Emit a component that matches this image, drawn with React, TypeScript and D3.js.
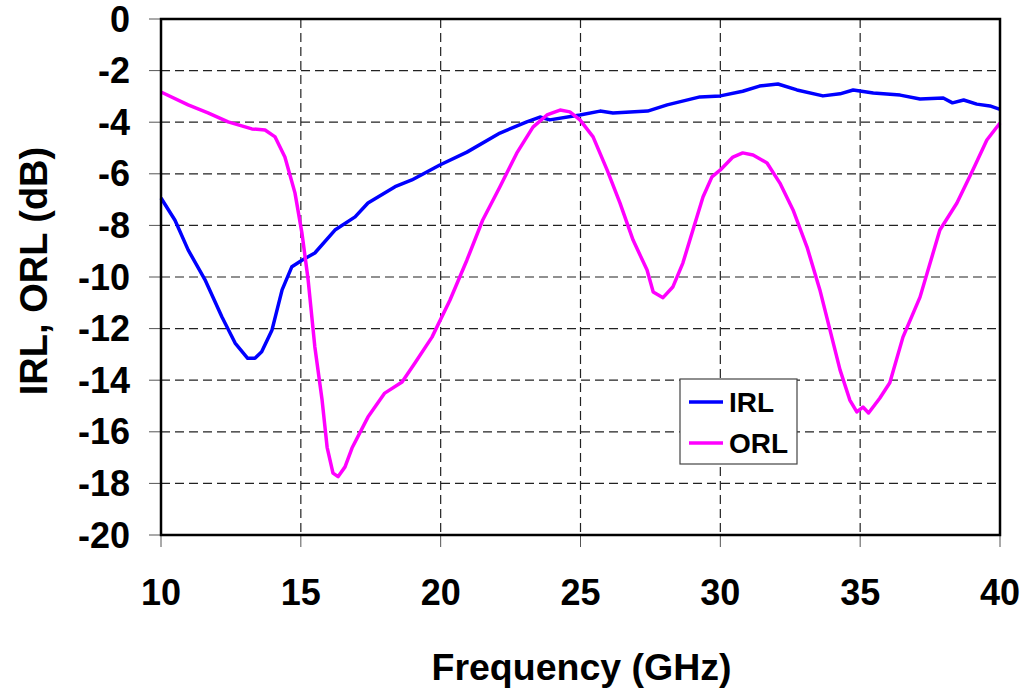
import * as d3 from 'd3'

const freqIRL = [10, 10.5, 10.97, 11.57, 12.18, 12.65, 13.1, 13.36, 13.6, 13.97, 14.33, 14.68, 15.04, 15.5, 16.22, 16.94, 17.4, 18.37, 18.97, 19.97, 20.94, 22.12, 23.08, 23.55, 23.9, 24.98, 25.7, 26.16, 27.4, 28.1, 29.27, 30, 30.8, 31.4, 32.06, 32.74, 33.67, 34.28, 34.75, 35.47, 36.43, 37.14, 37.97, 38.3, 38.7, 39.17, 39.64, 40]
const irl = [-6.94, -7.8, -8.95, -10.1, -11.55, -12.56, -13.15, -13.15, -12.9, -12.05, -10.5, -9.6, -9.35, -9.07, -8.18, -7.67, -7.13, -6.5, -6.24, -5.66, -5.16, -4.42, -3.99, -3.8, -3.91, -3.72, -3.57, -3.64, -3.57, -3.33, -3.02, -2.98, -2.8, -2.6, -2.52, -2.75, -2.98, -2.9, -2.75, -2.87, -2.95, -3.1, -3.06, -3.25, -3.14, -3.3, -3.37, -3.5]

const freqORL = [10, 10.97, 11.68, 12.4, 13.25, 13.72, 14.08, 14.43, 14.79, 15.04, 15.26, 15.5, 15.76, 15.94, 16.15, 16.33, 16.58, 16.83, 17.4, 18.0, 18.62, 19.08, 19.69, 20.33, 20.94, 21.5, 22.12, 22.72, 23.3, 23.8, 24.27, 24.62, 24.98, 25.45, 25.95, 26.41, 26.88, 27.38, 27.6, 27.95, 28.3, 28.66, 29.02, 29.38, 29.7, 30, 30.45, 30.8, 31.17, 31.67, 32.13, 32.6, 33.1, 33.56, 33.92, 34.28, 34.63, 34.88, 35.1, 35.3, 35.7, 36.06, 36.53, 37.14, 37.85, 38.46, 39.03, 39.53, 40]
const orl = [-2.83, -3.33, -3.64, -3.99, -4.26, -4.3, -4.57, -5.35, -6.74, -8.3, -10.1, -12.7, -14.77, -16.6, -17.6, -17.74, -17.36, -16.63, -15.43, -14.5, -14.07, -13.33, -12.33, -10.9, -9.34, -7.8, -6.5, -5.2, -4.19, -3.72, -3.53, -3.6, -3.91, -4.57, -5.85, -7.13, -8.57, -9.73, -10.58, -10.8, -10.39, -9.46, -8.18, -6.9, -6.12, -5.85, -5.35, -5.19, -5.27, -5.58, -6.36, -7.4, -8.84, -10.5, -12.05, -13.6, -14.77, -15.23, -15.04, -15.27, -14.7, -14.1, -12.33, -10.78, -8.18, -7.13, -5.85, -4.69, -4.03]

const xTicks = [10, 15, 20, 25, 30, 35, 40]
const yTicks = [0, -2, -4, -6, -8, -10, -12, -14, -16, -18, -20]

const series = [
  { name: 'IRL', color: '#0000ff', freq: freqIRL, values: irl },
  { name: 'ORL', color: '#ff00ff', freq: freqORL, values: orl },
]

const width = 1025
const height = 694
const left = 161
const right = 1000
const top = 19
const bottom = 535
const font = 'Arial, "Liberation Sans", Helvetica, sans-serif'

export default function App() {
  const x = d3.scaleLinear().domain([10, 40]).range([left, right])
  const y = d3.scaleLinear().domain([0, -20]).range([top, bottom])
  const line = d3
    .line<[number, number]>()
    .x((d) => x(d[0]))
    .y((d) => y(d[1]))

  return (
    <svg
      width={width}
      height={height}
      style={{ position: 'absolute', left: 0, top: 0, background: '#fff' }}
      fontFamily={font}
      fontWeight="bold"
    >
      {/* grid */}
      {yTicks
        .filter((t) => t !== 0 && t !== -20)
        .map((t) => (
          <line key={'gy' + t} x1={left} x2={right} y1={y(t)} y2={y(t)} stroke="#222" strokeWidth={1.2} strokeDasharray="9 5" />
        ))}
      {xTicks
        .filter((t) => t !== 10 && t !== 40)
        .map((t) => (
          <line key={'gx' + t} x1={x(t)} x2={x(t)} y1={top} y2={bottom} stroke="#222" strokeWidth={1.2} strokeDasharray="9 5" />
        ))}

      {/* ticks */}
      {yTicks.map((t) => (
        <g key={'ty' + t}>
          <line x1={left - 12} x2={left} y1={y(t)} y2={y(t)} stroke="#555" strokeWidth={1} />
          <text x={130} y={y(t)} textAnchor="end" dominantBaseline="central" fontSize={36}>
            {t}
          </text>
        </g>
      ))}
      {xTicks.map((t) => (
        <g key={'tx' + t}>
          <line x1={x(t)} x2={x(t)} y1={bottom} y2={bottom + 12} stroke="#555" strokeWidth={1} />
          <text x={x(t)} y={605} textAnchor="middle" fontSize={36}>
            {t}
          </text>
        </g>
      ))}

      {/* series */}
      {series.map((s) => (
        <path
          key={s.name}
          d={line(s.freq.map((f, i) => [f, s.values[i]] as [number, number])) ?? ''}
          fill="none"
          stroke={s.color}
          strokeWidth={3.5}
          strokeLinejoin="round"
        />
      ))}

      {/* frame */}
      <rect x={left} y={top} width={right - left} height={bottom - top} fill="none" stroke="#000" strokeWidth={2.5} />

      {/* legend */}
      <g>
        <rect x={680} y={379} width={117} height={85} fill="#fff" stroke="#444" strokeWidth={1.2} />
        {series.map((s, i) => (
          <g key={'lg' + s.name}>
            <line x1={689} x2={723} y1={402 + i * 41} y2={402 + i * 41} stroke={s.color} strokeWidth={3.5} />
            <text x={729} y={412 + i * 41} fontSize={28}>
              {s.name}
            </text>
          </g>
        ))}
      </g>

      {/* axis titles */}
      <text x={(left + right) / 2 + 1} y={680} textAnchor="middle" fontSize={37.5}>
        Frequency (GHz)
      </text>
      <text transform={`translate(47, 271) rotate(-90)`} textAnchor="middle" fontSize={38}>
        IRL, ORL (dB)
      </text>
    </svg>
  )
}
